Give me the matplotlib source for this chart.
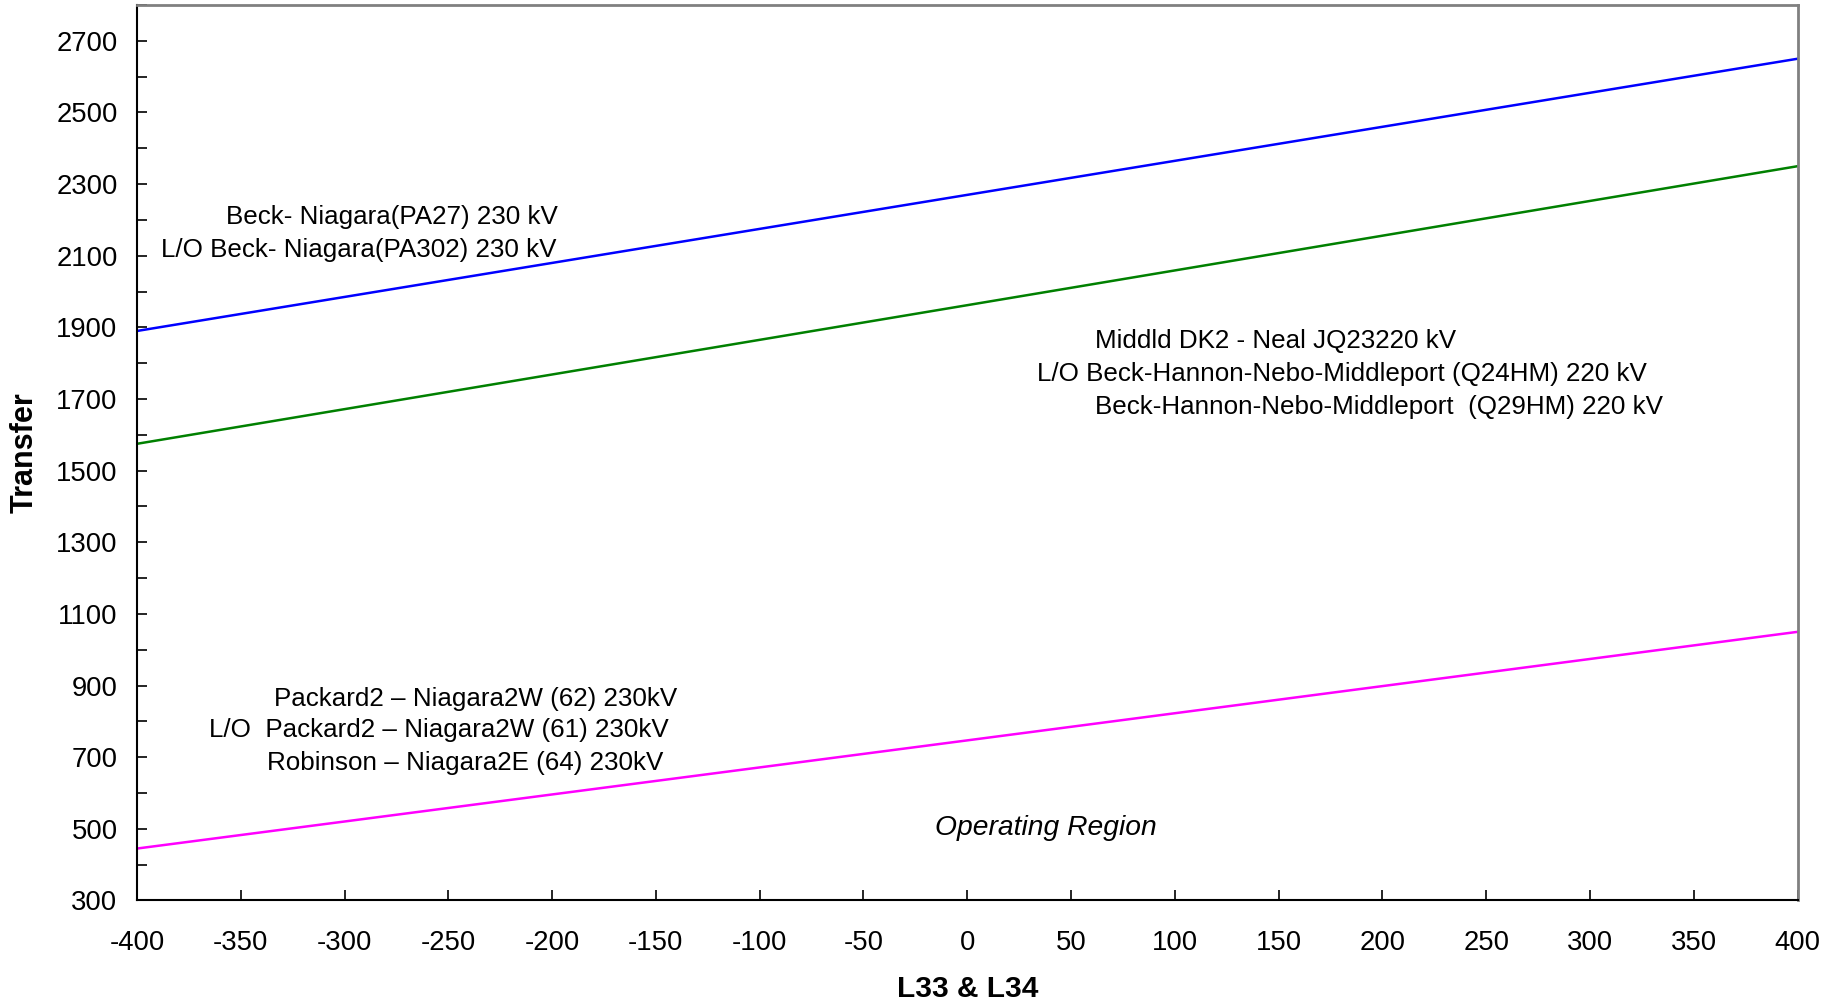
import matplotlib
matplotlib.use("Agg")
import matplotlib.pyplot as plt

plt.rcParams['font.family'] = ['Liberation Sans', 'DejaVu Sans']
plt.rcParams['axes.unicode_minus'] = False

# L33 & L34 flow (x) and transfer limits (y)
x_flow = [-400, 0, 400]
beck_niagara = [1890, 2270, 2650]
middleport = [1575, 1962, 2350]
packard_niagara = [445, 747, 1050]

beck_labels = ["Beck- Niagara(PA27) 230 kV",
               "L/O Beck- Niagara(PA302) 230 kV"]
middleport_labels = ["Middld DK2 - Neal JQ23220 kV",
                     "L/O Beck-Hannon-Nebo-Middleport (Q24HM) 220 kV",
                     "Beck-Hannon-Nebo-Middleport  (Q29HM) 220 kV"]
packard_labels = ["Packard2 \u2013 Niagara2W (62) 230kV",
                  "L/O  Packard2 \u2013 Niagara2W (61) 230kV",
                  "Robinson \u2013 Niagara2E (64) 230kV"]

fig = plt.figure(figsize=(18.41, 10.05), dpi=100)
ax = fig.add_axes([0.0744, 0.104, 0.902, 0.891])

ax.plot(x_flow, beck_niagara, color="#0000FF", lw=1.8)
ax.plot(x_flow, middleport, color="#008000", lw=1.8)
ax.plot(x_flow, packard_niagara, color="#FF00FF", lw=1.8)

fs = 18.7

# Beck-Niagara labels (right aligned)
ax.text(-197, 2209, beck_labels[0], ha="right", va="center", fontsize=fs)
ax.text(-198, 2117, beck_labels[1], ha="right", va="center", fontsize=fs)

# Middleport labels
ax.text(61.7, 1862, middleport_labels[0], ha="left", va="center", fontsize=fs)
ax.text(33.4, 1770, middleport_labels[1], ha="left", va="center", fontsize=fs)
ax.text(61.7, 1679, middleport_labels[2], ha="left", va="center", fontsize=fs)

# Packard-Niagara labels
ax.text(-333.8, 863, packard_labels[0], ha="left", va="center", fontsize=fs)
ax.text(-365.5, 775, packard_labels[1], ha="left", va="center", fontsize=fs)
ax.text(-337.2, 683, packard_labels[2], ha="left", va="center", fontsize=fs)

ax.text(38, 503, "Operating Region", ha="center", va="center",
        fontsize=20.3, style="italic")

ax.set_xlim(-400, 400)
ax.set_ylim(300, 2800)
ax.set_xticks(range(-400, 401, 50))
ax.set_yticks(range(300, 2701, 200))
ax.set_yticks(range(400, 2801, 200), minor=True)
ax.tick_params(axis="both", which="both", direction="in", length=7,
               width=1.2, labelsize=19.8)
ax.tick_params(axis="x", pad=21)
ax.tick_params(axis="y", pad=14)

for side in ["left", "bottom"]:
    ax.spines[side].set_color("black")
    ax.spines[side].set_linewidth(1.5)
for side in ["top", "right"]:
    ax.spines[side].set_color("#808080")
    ax.spines[side].set_linewidth(2)

ax.set_xlabel("L33 & L34", fontsize=21.5, fontweight="bold", labelpad=14)
ax.set_ylabel("Transfer", fontsize=22, fontweight="bold", labelpad=12)

fig.savefig("out.png", dpi=100)
